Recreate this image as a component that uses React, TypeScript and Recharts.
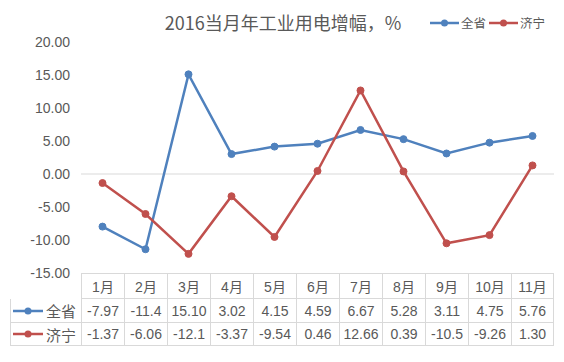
import { LineChart, Line, XAxis, YAxis, ReferenceLine } from 'recharts';

const months = ['1月', '2月', '3月', '4月', '5月', '6月', '7月', '8月', '9月', '10月', '11月'];
const provinceValues = [-7.97, -11.4, 15.1, 3.02, 4.15, 4.59, 6.67, 5.28, 3.11, 4.75, 5.76];
const jiningValues = [-1.37, -6.06, -12.1, -3.37, -9.54, 0.46, 12.66, 0.39, -10.5, -9.26, 1.3];
const provinceLabels = ['-7.97', '-11.4', '15.10', '3.02', '4.15', '4.59', '6.67', '5.28', '3.11', '4.75', '5.76'];
const jiningLabels = ['-1.37', '-6.06', '-12.1', '-3.37', '-9.54', '0.46', '12.66', '0.39', '-10.5', '-9.26', '1.30'];
const yTicks = [-15, -10, -5, 0, 5, 10, 15, 20];

const BLUE = '#4f81bd';
const RED = '#c0504d';
const TEXT = '#595959';
const BORDER = '#d9d9d9';
const FONT = "'Liberation Sans', 'Noto Sans CJK SC', sans-serif";
const CJK = "'Noto Sans CJK SC', sans-serif";

const PLOT_LEFT = 81;
const COL_W = 43;

const chartData = months.map((m, i) => ({
  m,
  province: provinceValues[i],
  jining: jiningValues[i],
}));

function Marker({ color, width = 30 }: { color: string; width?: number }) {
  return (
    <svg width={width} height={10} style={{ display: 'block' }}>
      <line x1={0} y1={5} x2={width} y2={5} stroke={color} strokeWidth={2.5} />
      <circle cx={width / 2} cy={5} r={3.5} fill={color} />
    </svg>
  );
}

function TableRow({ top, height, color, name, labels }: { top: number; height: number; color: string; name: string; labels: string[] }) {
  return (
    <>
      <div
        style={{
          position: 'absolute', left: 10, top, width: PLOT_LEFT - 10, height,
          borderLeft: `1px solid ${BORDER}`, borderBottom: `1px solid ${BORDER}`,
          boxSizing: 'border-box', display: 'flex', alignItems: 'center', gap: 3, paddingLeft: 2,
        }}
      >
        <Marker color={color} />
        <span style={{ fontFamily: CJK, fontSize: 15, color: TEXT }}>{name}</span>
      </div>
      {labels.map((t, i) => (
        <div
          key={i}
          style={{
            position: 'absolute', left: PLOT_LEFT + i * COL_W, top, width: COL_W, height,
            borderLeft: `1px solid ${BORDER}`, borderBottom: `1px solid ${BORDER}`,
            borderRight: i === labels.length - 1 ? `1px solid ${BORDER}` : undefined,
            boxSizing: 'border-box', display: 'flex', alignItems: 'center', justifyContent: 'center',
            fontFamily: FONT, fontSize: 14, color: TEXT,
          }}
        >
          {t}
        </div>
      ))}
    </>
  );
}

export default function App() {
  return (
    <div style={{ position: 'relative', width: 564, height: 362, margin: -8, background: '#fff', overflow: 'hidden' }}>
      <LineChart width={564} height={362} data={chartData} margin={{ top: 42, right: 10, bottom: 89, left: 0 }}>
        <XAxis dataKey="m" hide padding={{ left: COL_W / 2, right: COL_W / 2 }} />
        <YAxis
          width={PLOT_LEFT}
          domain={[-15, 20]}
          ticks={yTicks}
          interval={0}
          axisLine={false}
          tickLine={false}
          tickMargin={5}
          tickFormatter={(v: number) => v.toFixed(2)}
          tick={{ fill: TEXT, fontSize: 14, fontFamily: FONT }}
        />
        <ReferenceLine y={0} stroke={BORDER} strokeWidth={1} />
        <Line
          type="linear"
          dataKey="province"
          stroke={BLUE}
          strokeWidth={2.5}
          dot={{ r: 3.5, fill: BLUE, stroke: BLUE, strokeWidth: 1 }}
          isAnimationActive={false}
        />
        <Line
          type="linear"
          dataKey="jining"
          stroke={RED}
          strokeWidth={2.5}
          dot={{ r: 3.5, fill: RED, stroke: RED, strokeWidth: 1 }}
          isAnimationActive={false}
        />
      </LineChart>

      <div
        style={{
          position: 'absolute', left: 163, top: 10, width: 240, textAlign: 'center',
          fontFamily: CJK, fontSize: 18, color: TEXT, lineHeight: '24px', whiteSpace: 'nowrap',
        }}
      >
        2016当月年工业用电增幅，%
      </div>

      <div style={{ position: 'absolute', left: 430, top: 14, display: 'flex', alignItems: 'center', gap: 2, fontFamily: CJK, fontSize: 12.5, color: TEXT, lineHeight: '18px' }}>
        <Marker color={BLUE} width={29} />
        <span style={{ marginRight: 1 }}>全省</span>
        <Marker color={RED} width={29} />
        <span>济宁</span>
      </div>

      {months.map((m, i) => (
        <div
          key={m}
          style={{
            position: 'absolute', left: PLOT_LEFT + i * COL_W, top: 273, width: COL_W, height: 26,
            borderLeft: `1px solid ${BORDER}`, borderTop: `1px solid ${BORDER}`, borderBottom: `1px solid ${BORDER}`,
            borderRight: i === months.length - 1 ? `1px solid ${BORDER}` : undefined,
            boxSizing: 'border-box', display: 'flex', alignItems: 'center', justifyContent: 'center',
            fontFamily: FONT, fontSize: 14, color: TEXT,
          }}
        >
          {m}
        </div>
      ))}
      <TableRow top={299} height={24} color={BLUE} name="全省" labels={provinceLabels} />
      <TableRow top={323} height={23} color={RED} name="济宁" labels={jiningLabels} />
    </div>
  );
}
